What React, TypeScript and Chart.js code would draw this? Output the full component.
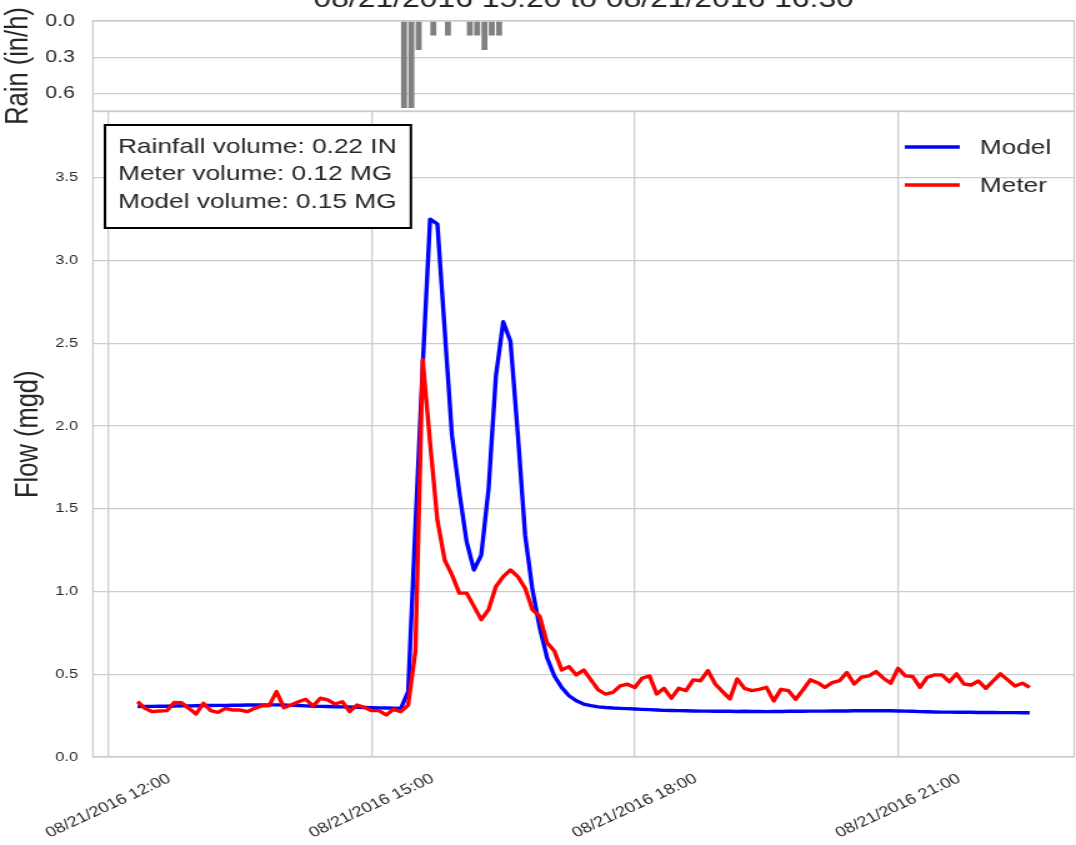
import React, { useEffect, useRef } from 'react';
import { Chart, registerables } from 'chart.js';

Chart.register(...registerables);

const FONT = '"Liberation Sans", Arial, Helvetica, sans-serif';
Chart.defaults.font.family = FONT;

// ---------------- data ----------------
const DATE = '08/21/2016';
const TITLE = '08/21/2016 15:20 to 08/21/2016 16:30';
const START_TIME = '12:20';
const STEP_MINUTES = 5;

const modelFlow = [
  0.305, 0.306, 0.306, 0.307, 0.307, 0.308, 0.309, 0.309, 0.310, 0.311,
  0.311, 0.312, 0.312, 0.313, 0.313, 0.314, 0.314, 0.315, 0.315, 0.315,
  0.314, 0.312, 0.311, 0.309, 0.307, 0.306, 0.305, 0.304, 0.303, 0.302,
  0.300, 0.299, 0.298, 0.297, 0.296, 0.295, 0.293, 0.395, 1.40, 2.37,
  3.25, 3.22, 2.58, 1.94, 1.60, 1.30, 1.13, 1.22, 1.62, 2.30,
  2.63, 2.51, 1.95, 1.34, 1.01, 0.78, 0.60, 0.49, 0.42, 0.37,
  0.34, 0.32, 0.31, 0.303, 0.299, 0.296, 0.294, 0.292, 0.290, 0.288,
  0.286, 0.284, 0.282, 0.281, 0.280, 0.279, 0.278, 0.277, 0.277, 0.276,
  0.276, 0.276, 0.275, 0.276, 0.275, 0.275, 0.274, 0.275, 0.275, 0.276,
  0.276, 0.276, 0.277, 0.277, 0.277, 0.278, 0.278, 0.278, 0.279, 0.279,
  0.279, 0.279, 0.279, 0.279, 0.278, 0.277, 0.276, 0.274, 0.273, 0.272,
  0.271, 0.271, 0.270, 0.270, 0.270, 0.269, 0.269, 0.269, 0.268, 0.268,
  0.268, 0.267, 0.267,
];

const meterFlow = [
  0.334, 0.294, 0.274, 0.278, 0.280, 0.330, 0.328, 0.294, 0.260, 0.325,
  0.280, 0.270, 0.294, 0.284, 0.284, 0.274, 0.294, 0.310, 0.310, 0.395,
  0.298, 0.314, 0.334, 0.349, 0.308, 0.355, 0.345, 0.320, 0.334, 0.274,
  0.314, 0.300, 0.280, 0.280, 0.254, 0.288, 0.274, 0.314, 0.640, 2.40,
  1.90, 1.43, 1.19, 1.10, 0.99, 0.99, 0.91, 0.83, 0.89, 1.03,
  1.09, 1.13, 1.09, 1.02, 0.89, 0.85, 0.69, 0.64, 0.526, 0.546,
  0.496, 0.526, 0.466, 0.405, 0.380, 0.390, 0.430, 0.440, 0.420, 0.476,
  0.490, 0.381, 0.415, 0.355, 0.415, 0.401, 0.466, 0.461, 0.522, 0.441,
  0.395, 0.351, 0.472, 0.415, 0.401, 0.409, 0.421, 0.339, 0.409, 0.401,
  0.349, 0.405, 0.466, 0.449, 0.421, 0.449, 0.461, 0.510, 0.441, 0.482,
  0.490, 0.516, 0.476, 0.446, 0.536, 0.490, 0.486, 0.421, 0.482, 0.496,
  0.496, 0.455, 0.502, 0.441, 0.435, 0.459, 0.415, 0.459, 0.502, 0.466,
  0.429, 0.446, 0.421,
];

const rainTimes = ['15:20', '15:25', '15:30', '15:40', '15:50', '16:05', '16:10', '16:15', '16:20', '16:25'];
const rainRate = [0.72, 0.72, 0.24, 0.12, 0.12, 0.12, 0.12, 0.24, 0.12, 0.12];

const timeTicks = ['12:00', '15:00', '18:00', '21:00'];
const flowTicks = [0, 0.5, 1.0, 1.5, 2.0, 2.5, 3.0, 3.5];
const rainTicks = [0, 0.3, 0.6];
const volumeLines = ['Rainfall volume: 0.22 IN', 'Meter volume: 0.12 MG', 'Model volume: 0.15 MG'];
const seriesNames = ['Model', 'Meter'];
const seriesColors = ['#0000ff', '#ff0000'];

// ---------------- layout (canvas drawn narrow, stretched horizontally) ----------------
const STRETCH = 1.25;
const CW = 861;
const AXIS_W = 74.4;
const PAD_R = 1.4;
const X_MIN = 11.825;
const X_MAX = 23.0083;
const GRID = '#cccccc';
const TEXT = '#262626';
const LINE_W = 3.4;

const toHours = (t: string) => {
  const [h, m] = t.split(':').map(Number);
  return h + m / 60;
};

const frame = {
  id: 'frame',
  beforeDatasetsDraw(chart: any) {
    const { ctx, chartArea: a } = chart;
    ctx.save();
    ctx.strokeStyle = GRID;
    ctx.lineWidth = 1.3;
    ctx.strokeRect(a.left, a.top, a.right - a.left, a.bottom - a.top);
    ctx.restore();
  },
};

const titleDraw = {
  id: 'titleDraw',
  afterDraw(chart: any) {
    const { ctx, chartArea: a } = chart;
    ctx.save();
    ctx.fillStyle = TEXT;
    ctx.font = `25.5px ${FONT}`;
    ctx.textAlign = 'center';
    ctx.textBaseline = 'alphabetic';
    ctx.fillText(TITLE, (a.left + a.right) / 2, 37);
    ctx.restore();
  },
};

const flowDecor = {
  id: 'flowDecor',
  afterDraw(chart: any) {
    const { ctx } = chart;
    const xs = chart.scales.x;
    ctx.save();
    // rotated x tick labels, centred under their ticks
    ctx.fillStyle = TEXT;
    ctx.font = `14.5px ${FONT}`;
    ctx.textAlign = 'center';
    ctx.textBaseline = 'middle';
    timeTicks.forEach((t) => {
      const px = xs.getPixelForValue(toHours(t));
      ctx.save();
      ctx.translate(px, 706);
      ctx.rotate((-30 * Math.PI) / 180);
      ctx.fillText(`${DATE} ${t}`, 0, 0);
      ctx.restore();
    });

    // legend
    ctx.font = `21px ${FONT}`;
    ctx.textAlign = 'left';
    seriesNames.forEach((name, i) => {
      const y = 47 + i * 38;
      ctx.strokeStyle = seriesColors[i];
      ctx.lineWidth = LINE_W;
      ctx.beginPath();
      ctx.moveTo(724, y);
      ctx.lineTo(768, y);
      ctx.stroke();
      ctx.fillStyle = TEXT;
      ctx.fillText(name, 784, y + 1);
    });

    // volume text box
    ctx.fillStyle = '#ffffff';
    ctx.fillRect(84, 25, 244.8, 103);
    ctx.strokeStyle = '#000000';
    ctx.lineWidth = 2;
    ctx.strokeRect(84, 25, 244.8, 103);
    ctx.fillStyle = TEXT;
    volumeLines.forEach((line, i) => {
      ctx.fillText(line, 94.4, 47 + i * 27.5);
    });
    ctx.restore();
  },
};

const fixY = (s: any) => {
  s.width = AXIS_W;
  s.paddingTop = 0;
  s.paddingBottom = 0;
};

export default function App() {
  const rainRef = useRef<HTMLCanvasElement>(null);
  const flowRef = useRef<HTMLCanvasElement>(null);

  useEffect(() => {
    const start = toHours(START_TIME);
    const times = modelFlow.map((_, i) => start + (i * STEP_MINUTES) / 60);

    const rain = new Chart(rainRef.current as HTMLCanvasElement, {
      type: 'bar',
      data: {
        datasets: [
          {
            data: rainTimes.map((t, i) => ({ x: toHours(t) + 2.2 / 60, y: rainRate[i] })),
            backgroundColor: '#808080',
            borderWidth: 0,
            barPercentage: 0.82,
            categoryPercentage: 1,
          } as any,
        ],
      },
      options: {
        responsive: false,
        animation: false,
        devicePixelRatio: 1,
        layout: { padding: { left: 0, right: PAD_R, top: 51, bottom: 29 } },
        plugins: { legend: { display: false }, tooltip: { enabled: false } },
        scales: {
          x: {
            type: 'linear',
            min: X_MIN,
            max: X_MAX,
            offset: false,
            grid: { display: false, offset: false },
            border: { display: false },
            ticks: { display: false },
            afterFit: (s: any) => {
              s.height = 0;
              s.paddingLeft = 0;
              s.paddingRight = 0;
            },
          },
          y: {
            type: 'linear',
            reverse: true,
            min: 0,
            max: 0.745,
            afterBuildTicks: (s: any) => {
              s.ticks = rainTicks.map((v) => ({ value: v }));
            },
            afterFit: fixY,
            grid: { color: GRID, lineWidth: 1.3, drawTicks: false },
            border: { display: false },
            ticks: {
              padding: 14.4,
              color: TEXT,
              font: { size: 17 },
              callback: (v: any) => Number(v).toFixed(1),
            },
            title: {
              display: true,
              text: 'Rain (in/h)',
              color: TEXT,
              font: { size: 25.5 },
              padding: { top: 0, bottom: 0 },
            },
          },
        },
      } as any,
      plugins: [frame, titleDraw],
    });

    const flow = new Chart(flowRef.current as HTMLCanvasElement, {
      type: 'line',
      data: {
        datasets: [
          {
            label: seriesNames[0],
            data: times.map((x, i) => ({ x, y: modelFlow[i] })),
            borderColor: seriesColors[0],
            borderWidth: LINE_W,
            pointRadius: 0,
            borderJoinStyle: 'round',
            order: 2,
          },
          {
            label: seriesNames[1],
            data: times.map((x, i) => ({ x, y: meterFlow[i] })),
            borderColor: seriesColors[1],
            borderWidth: LINE_W,
            pointRadius: 0,
            borderJoinStyle: 'round',
            order: 1,
          },
        ],
      },
      options: {
        responsive: false,
        animation: false,
        devicePixelRatio: 1,
        layout: { padding: { left: 0, right: PAD_R, top: 11.5, bottom: 0 } },
        plugins: { legend: { display: false }, tooltip: { enabled: false } },
        scales: {
          x: {
            type: 'linear',
            min: X_MIN,
            max: X_MAX,
            afterBuildTicks: (s: any) => {
              s.ticks = timeTicks.map((t) => ({ value: toHours(t) }));
            },
            afterFit: (s: any) => {
              s.height = 88;
              s.paddingLeft = 0;
              s.paddingRight = 0;
            },
            grid: { color: GRID, lineWidth: 1.3, drawTicks: false },
            border: { display: false },
            ticks: { display: false },
          },
          y: {
            type: 'linear',
            min: 0,
            max: 3.9,
            afterBuildTicks: (s: any) => {
              s.ticks = flowTicks.map((v) => ({ value: v }));
            },
            afterFit: fixY,
            grid: { color: GRID, lineWidth: 1.3, drawTicks: false },
            border: { display: false },
            ticks: {
              padding: 12,
              color: TEXT,
              font: { size: 13 },
              callback: (v: any) => Number(v).toFixed(1),
            },
            title: {
              display: true,
              text: 'Flow (mgd)',
              color: TEXT,
              font: { size: 25.5 },
              padding: { top: 8, bottom: 0 },
            },
          },
        },
      } as any,
      plugins: [frame, flowDecor],
    });

    return () => {
      rain.destroy();
      flow.destroy();
    };
  }, []);

  return (
    <div
      style={{
        position: 'absolute',
        left: 0,
        top: 0,
        width: 1076,
        height: 845,
        overflow: 'hidden',
        background: '#ffffff',
      }}
    >
      <canvas
        ref={rainRef}
        width={CW}
        height={170}
        style={{ position: 'absolute', left: 0, top: -30, width: `${CW * STRETCH}px`, height: '170px' }}
      />
      <canvas
        ref={flowRef}
        width={CW}
        height={745}
        style={{ position: 'absolute', left: 0, top: 100, width: `${CW * STRETCH}px`, height: '745px' }}
      />
    </div>
  );
}
